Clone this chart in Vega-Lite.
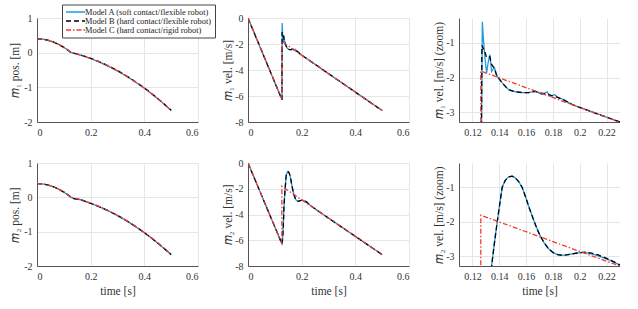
{
  "$schema": "https://vega.github.io/schema/vega-lite/v6.json",
  "background": "white",
  "padding": {"left": 9, "top": 4, "right": 0, "bottom": 0},
  "config": {
    "view": {"stroke": null},
    "font": "Liberation Serif",
    "axis": {
      "grid": true, "gridColor": "#e6e6e6", "gridWidth": 1,
      "domainColor": "#555555", "domainWidth": 1, "ticks": false,
      "labelFont": "Liberation Serif", "labelFontSize": 10, "labelColor": "#333333", "labelPadding": 5,
      "titleFont": "Liberation Serif", "titleFontSize": 11.5, "titleFontWeight": "normal", "titleColor": "#333333"
    },
    "axisX": {"titlePadding": 4},
    "axisY": {"titlePadding": 1}
  },
  "datasets": {
    "pos1": [
      {"model": "A", "t": 0, "v": 0.4}, {"model": "A", "t": 0.02, "v": 0.3901}, {"model": "A", "t": 0.04, "v": 0.3604}, {"model": "A", "t": 0.06, "v": 0.3109}, {"model": "A", "t": 0.08, "v": 0.2416}, {"model": "A", "t": 0.1, "v": 0.1525}, {"model": "A", "t": 0.115, "v": 0.0727}, {"model": "A", "t": 0.1262, "v": 0.0058}, {"model": "A", "t": 0.14, "v": -0.021}, {"model": "A", "t": 0.15, "v": -0.042}, {"model": "A", "t": 0.175, "v": -0.102}, {"model": "A", "t": 0.2, "v": -0.171}, {"model": "A", "t": 0.225, "v": -0.248}, {"model": "A", "t": 0.25, "v": -0.333}, {"model": "A", "t": 0.275, "v": -0.427}, {"model": "A", "t": 0.3, "v": -0.529}, {"model": "A", "t": 0.325, "v": -0.640}, {"model": "A", "t": 0.35, "v": -0.761}, {"model": "A", "t": 0.375, "v": -0.890}, {"model": "A", "t": 0.4, "v": -1.028}, {"model": "A", "t": 0.425, "v": -1.175}, {"model": "A", "t": 0.45, "v": -1.330}, {"model": "A", "t": 0.475, "v": -1.495}, {"model": "A", "t": 0.5, "v": -1.668},
      {"model": "B", "t": 0, "v": 0.4}, {"model": "B", "t": 0.02, "v": 0.3901}, {"model": "B", "t": 0.04, "v": 0.3604}, {"model": "B", "t": 0.06, "v": 0.3109}, {"model": "B", "t": 0.08, "v": 0.2416}, {"model": "B", "t": 0.1, "v": 0.1525}, {"model": "B", "t": 0.115, "v": 0.0727}, {"model": "B", "t": 0.1262, "v": 0.0058}, {"model": "B", "t": 0.14, "v": -0.019}, {"model": "B", "t": 0.15, "v": -0.039}, {"model": "B", "t": 0.175, "v": -0.096}, {"model": "B", "t": 0.2, "v": -0.162}, {"model": "B", "t": 0.225, "v": -0.238}, {"model": "B", "t": 0.25, "v": -0.322}, {"model": "B", "t": 0.275, "v": -0.416}, {"model": "B", "t": 0.3, "v": -0.518}, {"model": "B", "t": 0.325, "v": -0.630}, {"model": "B", "t": 0.35, "v": -0.751}, {"model": "B", "t": 0.375, "v": -0.880}, {"model": "B", "t": 0.4, "v": -1.018}, {"model": "B", "t": 0.425, "v": -1.165}, {"model": "B", "t": 0.45, "v": -1.321}, {"model": "B", "t": 0.475, "v": -1.486}, {"model": "B", "t": 0.5, "v": -1.660},
      {"model": "C", "t": 0, "v": 0.4}, {"model": "C", "t": 0.02, "v": 0.3901}, {"model": "C", "t": 0.04, "v": 0.3604}, {"model": "C", "t": 0.06, "v": 0.3109}, {"model": "C", "t": 0.08, "v": 0.2416}, {"model": "C", "t": 0.1, "v": 0.1525}, {"model": "C", "t": 0.115, "v": 0.0727}, {"model": "C", "t": 0.1262, "v": 0.0058}, {"model": "C", "t": 0.14, "v": -0.0204}, {"model": "C", "t": 0.15, "v": -0.0411}, {"model": "C", "t": 0.175, "v": -0.0992}, {"model": "C", "t": 0.2, "v": -0.1663}, {"model": "C", "t": 0.225, "v": -0.2421}, {"model": "C", "t": 0.25, "v": -0.3269}, {"model": "C", "t": 0.275, "v": -0.4205}, {"model": "C", "t": 0.3, "v": -0.5231}, {"model": "C", "t": 0.325, "v": -0.6344}, {"model": "C", "t": 0.35, "v": -0.7547}, {"model": "C", "t": 0.375, "v": -0.8838}, {"model": "C", "t": 0.4, "v": -1.0219}, {"model": "C", "t": 0.425, "v": -1.1687}, {"model": "C", "t": 0.45, "v": -1.3245}, {"model": "C", "t": 0.475, "v": -1.4891}, {"model": "C", "t": 0.5, "v": -1.6626}
    ],
    "pos2": [
      {"model": "A", "t": 0, "v": 0.4}, {"model": "A", "t": 0.02, "v": 0.3901}, {"model": "A", "t": 0.04, "v": 0.3604}, {"model": "A", "t": 0.06, "v": 0.3109}, {"model": "A", "t": 0.08, "v": 0.2416}, {"model": "A", "t": 0.1, "v": 0.1525}, {"model": "A", "t": 0.115, "v": 0.0727}, {"model": "A", "t": 0.1262, "v": 0.0058}, {"model": "A", "t": 0.13, "v": -0.013}, {"model": "A", "t": 0.1375, "v": -0.040}, {"model": "A", "t": 0.15, "v": -0.054}, {"model": "A", "t": 0.164, "v": -0.072}, {"model": "A", "t": 0.175, "v": -0.103}, {"model": "A", "t": 0.2, "v": -0.177}, {"model": "A", "t": 0.225, "v": -0.254}, {"model": "A", "t": 0.25, "v": -0.339}, {"model": "A", "t": 0.275, "v": -0.432}, {"model": "A", "t": 0.3, "v": -0.535}, {"model": "A", "t": 0.325, "v": -0.646}, {"model": "A", "t": 0.35, "v": -0.767}, {"model": "A", "t": 0.375, "v": -0.896}, {"model": "A", "t": 0.4, "v": -1.034}, {"model": "A", "t": 0.425, "v": -1.181}, {"model": "A", "t": 0.45, "v": -1.336}, {"model": "A", "t": 0.475, "v": -1.501}, {"model": "A", "t": 0.5, "v": -1.674},
      {"model": "B", "t": 0, "v": 0.4}, {"model": "B", "t": 0.02, "v": 0.3901}, {"model": "B", "t": 0.04, "v": 0.3604}, {"model": "B", "t": 0.06, "v": 0.3109}, {"model": "B", "t": 0.08, "v": 0.2416}, {"model": "B", "t": 0.1, "v": 0.1525}, {"model": "B", "t": 0.115, "v": 0.0727}, {"model": "B", "t": 0.1262, "v": 0.0058}, {"model": "B", "t": 0.13, "v": -0.013}, {"model": "B", "t": 0.1375, "v": -0.041}, {"model": "B", "t": 0.15, "v": -0.055}, {"model": "B", "t": 0.164, "v": -0.073}, {"model": "B", "t": 0.175, "v": -0.102}, {"model": "B", "t": 0.2, "v": -0.172}, {"model": "B", "t": 0.225, "v": -0.249}, {"model": "B", "t": 0.25, "v": -0.334}, {"model": "B", "t": 0.275, "v": -0.426}, {"model": "B", "t": 0.3, "v": -0.528}, {"model": "B", "t": 0.325, "v": -0.640}, {"model": "B", "t": 0.35, "v": -0.760}, {"model": "B", "t": 0.375, "v": -0.889}, {"model": "B", "t": 0.4, "v": -1.027}, {"model": "B", "t": 0.425, "v": -1.174}, {"model": "B", "t": 0.45, "v": -1.330}, {"model": "B", "t": 0.475, "v": -1.495}, {"model": "B", "t": 0.5, "v": -1.668},
      {"model": "C", "t": 0, "v": 0.4}, {"model": "C", "t": 0.02, "v": 0.3901}, {"model": "C", "t": 0.04, "v": 0.3604}, {"model": "C", "t": 0.06, "v": 0.3109}, {"model": "C", "t": 0.08, "v": 0.2416}, {"model": "C", "t": 0.1, "v": 0.1525}, {"model": "C", "t": 0.115, "v": 0.0727}, {"model": "C", "t": 0.1262, "v": 0.0058}, {"model": "C", "t": 0.14, "v": -0.0204}, {"model": "C", "t": 0.15, "v": -0.0411}, {"model": "C", "t": 0.175, "v": -0.0992}, {"model": "C", "t": 0.2, "v": -0.1663}, {"model": "C", "t": 0.225, "v": -0.2421}, {"model": "C", "t": 0.25, "v": -0.3269}, {"model": "C", "t": 0.275, "v": -0.4205}, {"model": "C", "t": 0.3, "v": -0.5231}, {"model": "C", "t": 0.325, "v": -0.6344}, {"model": "C", "t": 0.35, "v": -0.7547}, {"model": "C", "t": 0.375, "v": -0.8838}, {"model": "C", "t": 0.4, "v": -1.0219}, {"model": "C", "t": 0.425, "v": -1.1687}, {"model": "C", "t": 0.45, "v": -1.3245}, {"model": "C", "t": 0.475, "v": -1.4891}, {"model": "C", "t": 0.5, "v": -1.6626}
    ],
    "vel1": [
      {"model": "A", "t": 0, "v": 0}, {"model": "A", "t": 0.1265, "v": -6.28}, {"model": "A", "t": 0.1269, "v": -3.0}, {"model": "A", "t": 0.1274, "v": -0.39}, {"model": "A", "t": 0.1282, "v": -0.9}, {"model": "A", "t": 0.1295, "v": -1.5}, {"model": "A", "t": 0.1306, "v": -1.86}, {"model": "A", "t": 0.1318, "v": -1.55}, {"model": "A", "t": 0.133, "v": -1.34}, {"model": "A", "t": 0.1337, "v": -1.6}, {"model": "A", "t": 0.1343, "v": -1.82}, {"model": "A", "t": 0.1354, "v": -1.76}, {"model": "A", "t": 0.1365, "v": -1.72}, {"model": "A", "t": 0.1375, "v": -1.85}, {"model": "A", "t": 0.1385, "v": -1.96}, {"model": "A", "t": 0.1405, "v": -2.07}, {"model": "A", "t": 0.1422, "v": -2.15}, {"model": "A", "t": 0.1447, "v": -2.26}, {"model": "A", "t": 0.1471, "v": -2.35}, {"model": "A", "t": 0.152, "v": -2.41}, {"model": "A", "t": 0.157, "v": -2.43}, {"model": "A", "t": 0.1619, "v": -2.43}, {"model": "A", "t": 0.1669, "v": -2.39}, {"model": "A", "t": 0.1719, "v": -2.49}, {"model": "A", "t": 0.1756, "v": -2.41}, {"model": "A", "t": 0.178, "v": -2.54}, {"model": "A", "t": 0.1812, "v": -2.49}, {"model": "A", "t": 0.1842, "v": -2.58}, {"model": "A", "t": 0.1879, "v": -2.63}, {"model": "A", "t": 0.194, "v": -2.77}, {"model": "A", "t": 0.2, "v": -2.86}, {"model": "A", "t": 0.21, "v": -3.0}, {"model": "A", "t": 0.22, "v": -3.14}, {"model": "A", "t": 0.23, "v": -3.28}, {"model": "A", "t": 0.3, "v": -4.28}, {"model": "A", "t": 0.4, "v": -5.7}, {"model": "A", "t": 0.5, "v": -7.12},
      {"model": "B", "t": 0, "v": 0}, {"model": "B", "t": 0.1265, "v": -6.28}, {"model": "B", "t": 0.1268, "v": -3.0}, {"model": "B", "t": 0.1271, "v": -1.07}, {"model": "B", "t": 0.128, "v": -1.15}, {"model": "B", "t": 0.1295, "v": -1.28}, {"model": "B", "t": 0.1306, "v": -1.42}, {"model": "B", "t": 0.133, "v": -1.4}, {"model": "B", "t": 0.1343, "v": -1.62}, {"model": "B", "t": 0.1365, "v": -1.74}, {"model": "B", "t": 0.1378, "v": -1.91}, {"model": "B", "t": 0.1397, "v": -2.02}, {"model": "B", "t": 0.1422, "v": -2.15}, {"model": "B", "t": 0.1447, "v": -2.26}, {"model": "B", "t": 0.1471, "v": -2.35}, {"model": "B", "t": 0.152, "v": -2.41}, {"model": "B", "t": 0.157, "v": -2.43}, {"model": "B", "t": 0.1619, "v": -2.43}, {"model": "B", "t": 0.1669, "v": -2.4}, {"model": "B", "t": 0.172, "v": -2.45}, {"model": "B", "t": 0.176, "v": -2.48}, {"model": "B", "t": 0.18, "v": -2.53}, {"model": "B", "t": 0.1842, "v": -2.58}, {"model": "B", "t": 0.1879, "v": -2.64}, {"model": "B", "t": 0.194, "v": -2.77}, {"model": "B", "t": 0.2, "v": -2.86}, {"model": "B", "t": 0.21, "v": -3.0}, {"model": "B", "t": 0.22, "v": -3.14}, {"model": "B", "t": 0.23, "v": -3.28}, {"model": "B", "t": 0.3, "v": -4.28}, {"model": "B", "t": 0.4, "v": -5.7}, {"model": "B", "t": 0.5, "v": -7.12},
      {"model": "C", "t": 0, "v": 0}, {"model": "C", "t": 0.1262, "v": -6.25}, {"model": "C", "t": 0.12625, "v": -1.81}, {"model": "C", "t": 0.2, "v": -2.858}, {"model": "C", "t": 0.3, "v": -4.278}, {"model": "C", "t": 0.4, "v": -5.698}, {"model": "C", "t": 0.5, "v": -7.118}
    ],
    "vel2": [
      {"model": "A", "t": 0, "v": 0}, {"model": "A", "t": 0.1265, "v": -6.28}, {"model": "A", "t": 0.128, "v": -6.1}, {"model": "A", "t": 0.13, "v": -5.55}, {"model": "A", "t": 0.132, "v": -4.6}, {"model": "A", "t": 0.1343, "v": -3.28}, {"model": "A", "t": 0.1364, "v": -2.62}, {"model": "A", "t": 0.1385, "v": -2.0}, {"model": "A", "t": 0.1404, "v": -1.48}, {"model": "A", "t": 0.1422, "v": -1.0}, {"model": "A", "t": 0.1445, "v": -0.8}, {"model": "A", "t": 0.147, "v": -0.7}, {"model": "A", "t": 0.1496, "v": -0.68}, {"model": "A", "t": 0.152, "v": -0.73}, {"model": "A", "t": 0.1545, "v": -0.84}, {"model": "A", "t": 0.157, "v": -1.0}, {"model": "A", "t": 0.1595, "v": -1.27}, {"model": "A", "t": 0.162, "v": -1.56}, {"model": "A", "t": 0.1645, "v": -1.83}, {"model": "A", "t": 0.1669, "v": -2.08}, {"model": "A", "t": 0.1688, "v": -2.26}, {"model": "A", "t": 0.1706, "v": -2.41}, {"model": "A", "t": 0.1735, "v": -2.61}, {"model": "A", "t": 0.1767, "v": -2.78}, {"model": "A", "t": 0.18, "v": -2.89}, {"model": "A", "t": 0.1835, "v": -2.95}, {"model": "A", "t": 0.1867, "v": -2.97}, {"model": "A", "t": 0.19, "v": -2.96}, {"model": "A", "t": 0.1941, "v": -2.93}, {"model": "A", "t": 0.199, "v": -2.9}, {"model": "A", "t": 0.2039, "v": -2.89}, {"model": "A", "t": 0.209, "v": -2.93}, {"model": "A", "t": 0.2138, "v": -2.99}, {"model": "A", "t": 0.2175, "v": -3.04}, {"model": "A", "t": 0.2212, "v": -3.09}, {"model": "A", "t": 0.2255, "v": -3.17}, {"model": "A", "t": 0.2299, "v": -3.25}, {"model": "A", "t": 0.24, "v": -3.41}, {"model": "A", "t": 0.25, "v": -3.56}, {"model": "A", "t": 0.3, "v": -4.28}, {"model": "A", "t": 0.4, "v": -5.7}, {"model": "A", "t": 0.5, "v": -7.12},
      {"model": "B", "t": 0, "v": 0}, {"model": "B", "t": 0.1265, "v": -6.28}, {"model": "B", "t": 0.128, "v": -6.1}, {"model": "B", "t": 0.13, "v": -5.55}, {"model": "B", "t": 0.132, "v": -4.6}, {"model": "B", "t": 0.1343, "v": -3.28}, {"model": "B", "t": 0.1364, "v": -2.62}, {"model": "B", "t": 0.1385, "v": -2.0}, {"model": "B", "t": 0.1404, "v": -1.48}, {"model": "B", "t": 0.1422, "v": -1.0}, {"model": "B", "t": 0.1445, "v": -0.8}, {"model": "B", "t": 0.147, "v": -0.7}, {"model": "B", "t": 0.1496, "v": -0.68}, {"model": "B", "t": 0.152, "v": -0.73}, {"model": "B", "t": 0.1545, "v": -0.84}, {"model": "B", "t": 0.157, "v": -1.0}, {"model": "B", "t": 0.1595, "v": -1.27}, {"model": "B", "t": 0.162, "v": -1.56}, {"model": "B", "t": 0.1645, "v": -1.83}, {"model": "B", "t": 0.1669, "v": -2.08}, {"model": "B", "t": 0.1688, "v": -2.26}, {"model": "B", "t": 0.1706, "v": -2.41}, {"model": "B", "t": 0.1735, "v": -2.61}, {"model": "B", "t": 0.1767, "v": -2.78}, {"model": "B", "t": 0.18, "v": -2.89}, {"model": "B", "t": 0.1835, "v": -2.95}, {"model": "B", "t": 0.1867, "v": -2.97}, {"model": "B", "t": 0.19, "v": -2.96}, {"model": "B", "t": 0.1941, "v": -2.93}, {"model": "B", "t": 0.199, "v": -2.9}, {"model": "B", "t": 0.2039, "v": -2.88}, {"model": "B", "t": 0.209, "v": -2.91}, {"model": "B", "t": 0.2138, "v": -2.96}, {"model": "B", "t": 0.2175, "v": -3.02}, {"model": "B", "t": 0.2212, "v": -3.08}, {"model": "B", "t": 0.2255, "v": -3.16}, {"model": "B", "t": 0.2299, "v": -3.25}, {"model": "B", "t": 0.24, "v": -3.41}, {"model": "B", "t": 0.25, "v": -3.56}, {"model": "B", "t": 0.3, "v": -4.28}, {"model": "B", "t": 0.4, "v": -5.7}, {"model": "B", "t": 0.5, "v": -7.12},
      {"model": "C", "t": 0, "v": 0}, {"model": "C", "t": 0.1262, "v": -6.25}, {"model": "C", "t": 0.12625, "v": -1.81}, {"model": "C", "t": 0.2, "v": -2.858}, {"model": "C", "t": 0.3, "v": -4.278}, {"model": "C", "t": 0.4, "v": -5.698}, {"model": "C", "t": 0.5, "v": -7.118}
    ]
  },
  "columns": 3,
  "spacing": {"row": 41, "column": 50},
  "bounds": "flush",
  "resolve": {"scale": {"color": "independent", "strokeDash": "independent"}},
  "concat": [
    {
      "width": 161, "height": 104,
      "data": {"name": "pos1"},
      "mark": {"type": "line", "strokeWidth": 1.3, "clip": true},
      "encoding": {
        "x": {"field": "t", "type": "quantitative", "scale": {"domain": [0, 0.6], "nice": false, "zero": false}, "axis": {"values": [0, 0.2, 0.4, 0.6], "title": null, "labelExpr": "'' + datum.value"}},
        "y": {"field": "v", "type": "quantitative", "scale": {"domain": [-2, 1], "nice": false, "zero": false}, "axis": {"values": [-2, -1, 0, 1], "title": "𝑚₁ pos. [m]", "titlePadding": 3, "labelExpr": "'' + datum.value"}},
        "color": {"field": "model", "type": "nominal", "scale": {"domain": ["A", "B", "C"], "range": ["#1e9ae0", "#000000", "#f03c2d"]},
          "legend": {"title": null, "orient": "none", "legendX": 25, "legendY": -13.5, "direction": "vertical", "fillColor": "white", "strokeColor": "#444444", "padding": 3, "symbolType": "M-1,0L4.43,0", "symbolSize": 49, "symbolStrokeWidth": 1.3, "labelFont": "Liberation Serif", "labelFontSize": 8.4, "labelColor": "#222222", "rowPadding": -2, "labelOffset": 11, "labelLimit": 300,
            "labelExpr": "datum.label == 'A' ? 'Model A (soft contact/flexible robot)' : datum.label == 'B' ? 'Model B (hard contact/flexible robot)' : 'Model C (hard contact/rigid robot)'"}},
        "strokeDash": {"field": "model", "type": "nominal", "scale": {"domain": ["A", "B", "C"], "range": [[1, 0], [5, 3], [5, 2, 1.5, 2]]},
          "legend": {"title": null, "orient": "none", "legendX": 25, "legendY": -13.5, "direction": "vertical", "fillColor": "white", "strokeColor": "#444444", "padding": 3, "symbolType": "M-1,0L4.43,0", "symbolSize": 49, "symbolStrokeWidth": 1.3, "labelFont": "Liberation Serif", "labelFontSize": 8.4, "labelColor": "#222222", "rowPadding": -2, "labelOffset": 11, "labelLimit": 300,
            "labelExpr": "datum.label == 'A' ? 'Model A (soft contact/flexible robot)' : datum.label == 'B' ? 'Model B (hard contact/flexible robot)' : 'Model C (hard contact/rigid robot)'"}}
      }
    },
    {
      "width": 161, "height": 104,
      "data": {"name": "vel1"},
      "mark": {"type": "line", "strokeWidth": 1.3, "clip": true},
      "encoding": {
        "x": {"field": "t", "type": "quantitative", "scale": {"domain": [0, 0.6], "nice": false, "zero": false}, "axis": {"values": [0, 0.2, 0.4, 0.6], "title": null, "labelExpr": "'' + datum.value"}},
        "y": {"field": "v", "type": "quantitative", "scale": {"domain": [-8, 0], "nice": false, "zero": false}, "axis": {"values": [-8, -6, -4, -2, 0], "title": "𝑚₁ vel. [m/s]", "labelExpr": "'' + datum.value"}},
        "color": {"field": "model", "type": "nominal", "scale": {"domain": ["A", "B", "C"], "range": ["#1e9ae0", "#000000", "#f03c2d"]}, "legend": null},
        "strokeDash": {"field": "model", "type": "nominal", "scale": {"domain": ["A", "B", "C"], "range": [[1, 0], [5, 3], [5, 2, 1.5, 2]]}, "legend": null}
      }
    },
    {
      "width": 161, "height": 104,
      "data": {"name": "vel1"},
      "mark": {"type": "line", "strokeWidth": 1.3, "clip": true},
      "encoding": {
        "x": {"field": "t", "type": "quantitative", "scale": {"domain": [0.11, 0.23], "nice": false, "zero": false}, "axis": {"values": [0.12, 0.14, 0.16, 0.18, 0.2, 0.22], "title": null, "labelExpr": "'' + datum.value"}},
        "y": {"field": "v", "type": "quantitative", "scale": {"domain": [-3.28, -0.28], "nice": false, "zero": false}, "axis": {"values": [-3, -2, -1], "title": "𝑚₁ vel. [m/s] (zoom)", "labelExpr": "'' + datum.value"}},
        "color": {"field": "model", "type": "nominal", "scale": {"domain": ["A", "B", "C"], "range": ["#1e9ae0", "#000000", "#f03c2d"]}, "legend": null},
        "strokeDash": {"field": "model", "type": "nominal", "scale": {"domain": ["A", "B", "C"], "range": [[1, 0], [5, 3], [5, 2, 1.5, 2]]}, "legend": null}
      }
    },
    {
      "width": 161, "height": 103,
      "data": {"name": "pos2"},
      "mark": {"type": "line", "strokeWidth": 1.3, "clip": true},
      "encoding": {
        "x": {"field": "t", "type": "quantitative", "scale": {"domain": [0, 0.6], "nice": false, "zero": false}, "axis": {"values": [0, 0.2, 0.4, 0.6], "title": "time [s]", "labelExpr": "'' + datum.value"}},
        "y": {"field": "v", "type": "quantitative", "scale": {"domain": [-2, 1], "nice": false, "zero": false}, "axis": {"values": [-2, -1, 0, 1], "title": "𝑚₂ pos. [m]", "titlePadding": 3, "labelExpr": "'' + datum.value"}},
        "color": {"field": "model", "type": "nominal", "scale": {"domain": ["A", "B", "C"], "range": ["#1e9ae0", "#000000", "#f03c2d"]}, "legend": null},
        "strokeDash": {"field": "model", "type": "nominal", "scale": {"domain": ["A", "B", "C"], "range": [[1, 0], [5, 3], [5, 2, 1.5, 2]]}, "legend": null}
      }
    },
    {
      "width": 161, "height": 103,
      "data": {"name": "vel2"},
      "mark": {"type": "line", "strokeWidth": 1.3, "clip": true},
      "encoding": {
        "x": {"field": "t", "type": "quantitative", "scale": {"domain": [0, 0.6], "nice": false, "zero": false}, "axis": {"values": [0, 0.2, 0.4, 0.6], "title": "time [s]", "labelExpr": "'' + datum.value"}},
        "y": {"field": "v", "type": "quantitative", "scale": {"domain": [-8, 0], "nice": false, "zero": false}, "axis": {"values": [-8, -6, -4, -2, 0], "title": "𝑚₂ vel. [m/s]", "labelExpr": "'' + datum.value"}},
        "color": {"field": "model", "type": "nominal", "scale": {"domain": ["A", "B", "C"], "range": ["#1e9ae0", "#000000", "#f03c2d"]}, "legend": null},
        "strokeDash": {"field": "model", "type": "nominal", "scale": {"domain": ["A", "B", "C"], "range": [[1, 0], [5, 3], [5, 2, 1.5, 2]]}, "legend": null}
      }
    },
    {
      "width": 161, "height": 103,
      "data": {"name": "vel2"},
      "mark": {"type": "line", "strokeWidth": 1.3, "clip": true},
      "encoding": {
        "x": {"field": "t", "type": "quantitative", "scale": {"domain": [0.11, 0.23], "nice": false, "zero": false}, "axis": {"values": [0.12, 0.14, 0.16, 0.18, 0.2, 0.22], "title": "time [s]", "labelExpr": "'' + datum.value"}},
        "y": {"field": "v", "type": "quantitative", "scale": {"domain": [-3.28, -0.3], "nice": false, "zero": false}, "axis": {"values": [-3, -2, -1], "title": "𝑚₂ vel. [m/s] (zoom)", "labelExpr": "'' + datum.value"}},
        "color": {"field": "model", "type": "nominal", "scale": {"domain": ["A", "B", "C"], "range": ["#1e9ae0", "#000000", "#f03c2d"]}, "legend": null},
        "strokeDash": {"field": "model", "type": "nominal", "scale": {"domain": ["A", "B", "C"], "range": [[1, 0], [5, 3], [5, 2, 1.5, 2]]}, "legend": null}
      }
    }
  ]
}
